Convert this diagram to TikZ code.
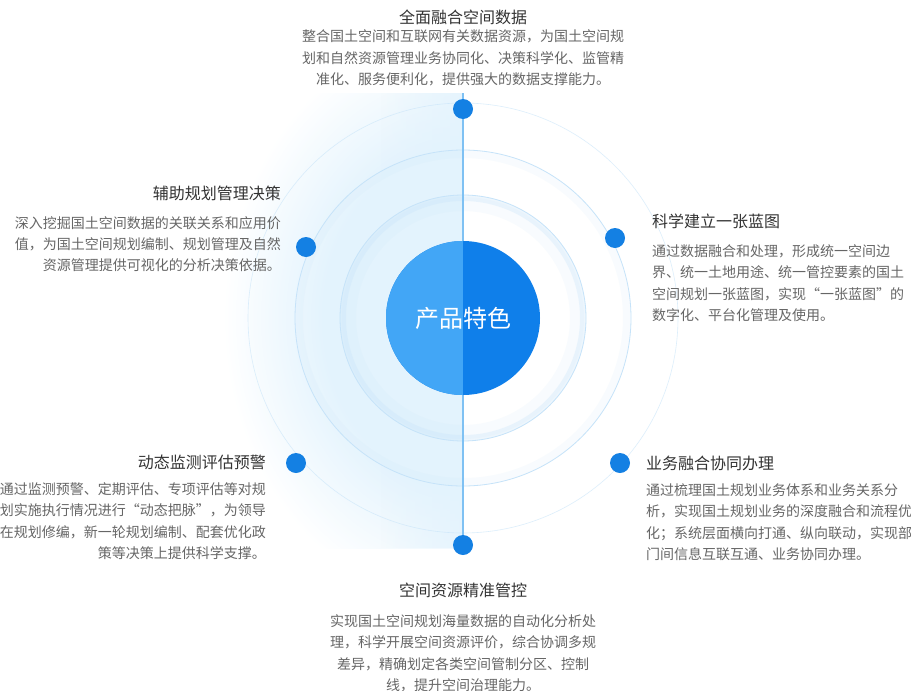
\documentclass[tikz,border=0pt]{standalone}
\usepackage{fontspec}
\setmainfont{Noto Sans CJK SC}
\usetikzlibrary{fadings}
\definecolor{glowblue}{HTML}{E3F3FD}
\definecolor{ringblue}{HTML}{C6E3F9}
\definecolor{axisblue}{HTML}{7FC1F3}
\definecolor{dotblue}{HTML}{1480E3}
\definecolor{coreleft}{HTML}{42A6F6}
\definecolor{coreright}{HTML}{0F7FEA}
\definecolor{titlegray}{HTML}{333333}
\definecolor{bodygray}{HTML}{666666}
\pgfdeclareradialshading{leftglow}{\pgfpoint{0bp}{0bp}}{color(0bp)=(glowblue); color(7bp)=(glowblue); color(12bp)=(white); color(50bp)=(white)}

\begin{document}
\begin{tikzpicture}[x=1pt,y=-1pt,
    dot/.style={circle,fill=dotblue,minimum size=20pt,inner sep=0pt},
    head/.style={inner sep=0pt,text=titlegray,font=\fontsize{16}{16}\selectfont},
    body/.style={inner sep=0pt,text=bodygray,font=\fontsize{14}{21.3}\selectfont},
    ring/.style={draw=ringblue}]
    \useasboundingbox[fill=white] (0,0) rectangle (911,691);
    \coordinate (ctr) at (463,318);
    \coordinate (ltop) at (463,93);
    \coordinate (lbot) at (463,545);
    % light band on the left half
    \begin{scope}
        \clip (200,93) rectangle (463,548);
        \fill[shading=leftglow] (ctr) ellipse (500 and 600);
        \fill[glowblue,path fading=west,opacity=0.8] (380,93) rectangle (463,548);
    \end{scope}
    % rings
    \draw[ring,line width=14pt,opacity=0.12] (ctr) circle (114);
    \draw[ring,line width=6pt,opacity=0.3] (ctr) circle (120);
    \draw[ring,line width=0.8pt] (ctr) circle (123);
    \draw[ring,line width=8pt,opacity=0.12] (ctr) circle (164);
    \draw[ring,line width=0.8pt] (ctr) circle (168);
    \draw[ring,line width=0.6pt,opacity=0.6] (ctr) circle (215);
    \draw[axisblue,line width=1.3pt] (ltop) -- (lbot);
    \node[circle,minimum size=154pt,inner sep=0pt,fill=coreright,text=white,
        font=\fontsize{24}{24}\selectfont,
        path picture={\fill[coreleft] (path picture bounding box.north west) rectangle (path picture bounding box.south);}]
        (core) at (ctr) {\raisebox{-3pt}{产品特色}};
    % dots
    \node[dot] (dtop) at (463,109) {};
    \node[dot] (dbot) at (lbot) {};
    \node[dot] (dlt) at (306,247) {};
    \node[dot] (drt) at (615,238) {};
    \node[dot] (dlb) at (296,463) {};
    \node[dot] (drb) at (620,463) {};
    % texts
    \node[head] (ttop) at (463,17) {全面融合空间数据};
    \node[body,align=center,anchor=north] (btop) at (463,29.9) {整合国土空间和互联网有关数据资源，为国土空间规\\划和自然资源管理业务协同化、决策科学化、监管精\\准化、服务便利化，提供强大的数据支撑能力。};
    \node[head,anchor=east] (tlt) at (281,193) {辅助规划管理决策};
    \node[body,align=right,anchor=north east] (blt) at (281,216.1) {深入挖掘国土空间数据的关联关系和应用价\\值，为国土空间规划编制、规划管理及自然\\资源管理提供可视化的分析决策依据。};
    \node[head,anchor=west] (trt) at (652,221.7) {科学建立一张蓝图};
    \node[body,align=left,anchor=north west] (brt) at (652,244.6) {通过数据融合和处理，形成统一空间边\\界、统一土地用途、统一管控要素的国土\\空间规划一张蓝图，实现“一张蓝图”的\\数字化、平台化管理及使用。};
    \node[head,anchor=east] (tlb) at (266,462.5) {动态监测评估预警};
    \node[body,align=right,anchor=north east] (blb) at (266,482.6) {通过监测预警、定期评估、专项评估等对规\\划实施执行情况进行“动态把脉”，为领导\\在规划修编，新一轮规划编制、配套优化政\\策等决策上提供科学支撑。};
    \node[head,anchor=west] (trb) at (646,463) {业务融合协同办理};
    \node[body,align=left,anchor=north west] (brb) at (646,483.6) {通过梳理国土规划业务体系和业务关系分\\析，实现国土规划业务的深度融合和流程优\\化；系统层面横向打通、纵向联动，实现部\\门间信息互联互通、业务协同办理。};
    \node[head] (tbot) at (463,590.5) {空间资源精准管控};
    \node[body,align=center,anchor=north] (bbot) at (463,614.4) {实现国土空间规划海量数据的自动化分析处\\理，科学开展空间资源评价，综合协调多规\\差异，精确划定各类空间管制分区、控制\\线，提升空间治理能力。};
\end{tikzpicture}
\end{document}
